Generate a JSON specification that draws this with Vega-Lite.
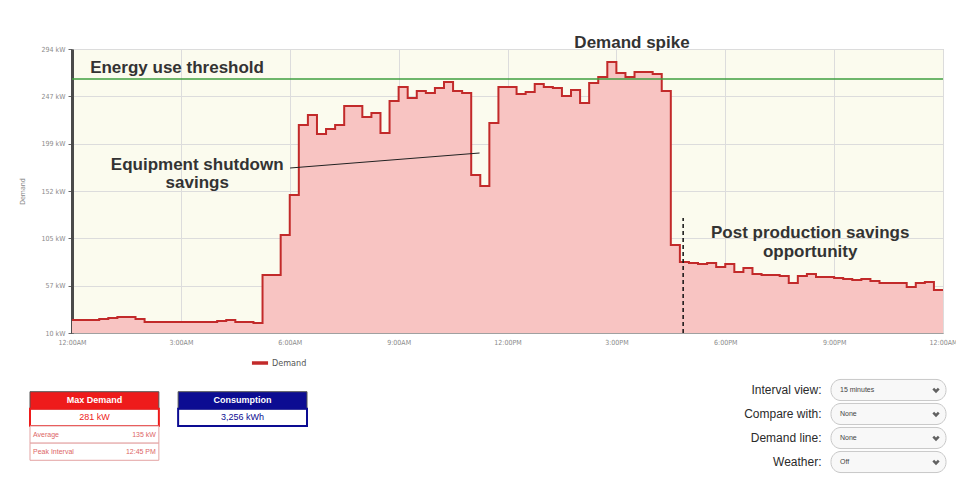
{
  "$schema": "https://vega.github.io/schema/vega-lite/v6.json",
  "background": "white",
  "padding": {"left": 17, "top": 33, "right": 0, "bottom": 0},
  "spacing": 32,
  "config": {
    "font": "Liberation Sans",
    "view": {"stroke": null},
    "axis": {"labelFont": "Liberation Sans Narrow, DejaVu Sans Condensed, Liberation Sans", "titleFont": "Liberation Sans Narrow, DejaVu Sans Condensed, Liberation Sans"},
    "legend": {"labelFont": "Liberation Sans Narrow, DejaVu Sans Condensed, Liberation Sans"}
  },
  "datasets": {
    "demand": [
      {"h": 0, "kw": 23}, {"h": 0.25, "kw": 23}, {"h": 0.5, "kw": 23}, {"h": 0.75, "kw": 24},
      {"h": 1, "kw": 25}, {"h": 1.25, "kw": 26}, {"h": 1.5, "kw": 26}, {"h": 1.75, "kw": 24},
      {"h": 2, "kw": 21}, {"h": 2.25, "kw": 21}, {"h": 2.5, "kw": 21}, {"h": 2.75, "kw": 21},
      {"h": 3, "kw": 21}, {"h": 3.25, "kw": 21}, {"h": 3.5, "kw": 21}, {"h": 3.75, "kw": 21},
      {"h": 4, "kw": 22}, {"h": 4.25, "kw": 23}, {"h": 4.5, "kw": 21}, {"h": 4.75, "kw": 21},
      {"h": 5, "kw": 20}, {"h": 5.25, "kw": 68}, {"h": 5.5, "kw": 68}, {"h": 5.75, "kw": 108},
      {"h": 6, "kw": 148}, {"h": 6.25, "kw": 218}, {"h": 6.5, "kw": 228}, {"h": 6.75, "kw": 209},
      {"h": 7, "kw": 214}, {"h": 7.25, "kw": 218}, {"h": 7.5, "kw": 237}, {"h": 7.75, "kw": 237},
      {"h": 8, "kw": 226}, {"h": 8.25, "kw": 230}, {"h": 8.5, "kw": 210}, {"h": 8.75, "kw": 242},
      {"h": 9, "kw": 256}, {"h": 9.25, "kw": 245}, {"h": 9.5, "kw": 252}, {"h": 9.75, "kw": 250},
      {"h": 10, "kw": 255}, {"h": 10.25, "kw": 261}, {"h": 10.5, "kw": 252}, {"h": 10.75, "kw": 250},
      {"h": 11, "kw": 168}, {"h": 11.25, "kw": 157}, {"h": 11.5, "kw": 220}, {"h": 11.75, "kw": 256},
      {"h": 12, "kw": 256}, {"h": 12.25, "kw": 249}, {"h": 12.5, "kw": 251}, {"h": 12.75, "kw": 259},
      {"h": 13, "kw": 256}, {"h": 13.25, "kw": 255}, {"h": 13.5, "kw": 247}, {"h": 13.75, "kw": 253},
      {"h": 14, "kw": 240}, {"h": 14.25, "kw": 260}, {"h": 14.5, "kw": 266}, {"h": 14.75, "kw": 281},
      {"h": 15, "kw": 270}, {"h": 15.25, "kw": 266}, {"h": 15.5, "kw": 271}, {"h": 15.75, "kw": 271},
      {"h": 16, "kw": 269}, {"h": 16.25, "kw": 252}, {"h": 16.5, "kw": 98}, {"h": 16.75, "kw": 81},
      {"h": 17, "kw": 80}, {"h": 17.25, "kw": 79}, {"h": 17.5, "kw": 80}, {"h": 17.75, "kw": 76},
      {"h": 18, "kw": 79}, {"h": 18.25, "kw": 71}, {"h": 18.5, "kw": 75}, {"h": 18.75, "kw": 69},
      {"h": 19, "kw": 68}, {"h": 19.25, "kw": 68}, {"h": 19.5, "kw": 67}, {"h": 19.75, "kw": 60},
      {"h": 20, "kw": 67}, {"h": 20.25, "kw": 69}, {"h": 20.5, "kw": 66}, {"h": 20.75, "kw": 66},
      {"h": 21, "kw": 65}, {"h": 21.25, "kw": 64}, {"h": 21.5, "kw": 63}, {"h": 21.75, "kw": 64},
      {"h": 22, "kw": 62}, {"h": 22.25, "kw": 60}, {"h": 22.5, "kw": 60}, {"h": 22.75, "kw": 60},
      {"h": 23, "kw": 56}, {"h": 23.25, "kw": 60}, {"h": 23.5, "kw": 61}, {"h": 23.75, "kw": 53},
      {"h": 24, "kw": 53}
    ],
    "cards": [
      {"card": "Max Demand", "part": "title", "text": "Max Demand"},
      {"card": "Max Demand", "part": "value", "text": "281 kW"},
      {"card": "Max Demand", "part": "Average", "text": "135 kW"},
      {"card": "Max Demand", "part": "Peak Interval", "text": "12:45 PM"},
      {"card": "Consumption", "part": "title", "text": "Consumption"},
      {"card": "Consumption", "part": "value", "text": "3,256 kWh"}
    ],
    "controls": [
      {"control": "Interval view:", "setting": "15 minutes"},
      {"control": "Compare with:", "setting": "None"},
      {"control": "Demand line:", "setting": "None"},
      {"control": "Weather:", "setting": "Off"}
    ]
  },
  "vconcat": [
    {
      "width": 871,
      "height": 284,
      "view": {"fill": "#fbfbee", "stroke": "#bdbdbd"},
      "layer": [
        {
          "data": {"name": "demand"},
          "mark": {"type": "area", "interpolate": "step-after", "color": "#f8c4c2", "opacity": 1},
          "encoding": {
            "x": {"field": "h", "type": "quantitative",
              "scale": {"domain": [0, 24], "nice": false, "zero": false},
              "axis": {"values": [0, 3, 6, 9, 12, 15, 18, 21, 24],
                "labelExpr": "(datum.value % 12 == 0 ? 12 : datum.value % 12) + ':00' + (datum.value % 24 < 12 ? 'AM' : 'PM')",
                "grid": true, "gridColor": "#dcdcdc", "domainColor": "#a0a0a0", "ticks": false,
                "labelFontSize": 7, "labelColor": "#8a8a8a", "labelPadding": 5, "labelFlush": false, "labelOverlap": false, "title": null}},
            "y": {"field": "kw", "type": "quantitative",
              "scale": {"domain": [10, 294], "nice": false, "zero": false},
              "axis": {"values": [10, 57.333, 104.667, 152, 199.333, 246.667, 294],
                "labelExpr": "format(datum.value, '.0f') + ' kW'",
                "grid": true, "gridColor": "#dcdcdc", "domainColor": "#4a4a4a", "domainWidth": 3,
                "ticks": true, "tickSize": 4, "tickColor": "#666", "labelFontSize": 7, "labelColor": "#8a8a8a", "labelPadding": 3,
                "title": "Demand", "titleFontSize": 7, "titleFontWeight": "normal", "titleColor": "#8a8a8a", "titlePadding": 16}},
            "y2": {"datum": 10}
          }
        },
        {
          "data": {"name": "demand"},
          "mark": {"type": "line", "interpolate": "step-after", "strokeWidth": 2},
          "encoding": {
            "x": {"field": "h", "type": "quantitative"},
            "y": {"field": "kw", "type": "quantitative"},
            "stroke": {"datum": "Demand", "type": "nominal",
              "scale": {"range": ["#c22a2a"]},
              "legend": {"orient": "none", "legendX": 178, "legendY": 304, "title": null, "direction": "horizontal",
                "symbolType": "stroke", "symbolStrokeWidth": 3.5, "symbolSize": 260, "labelFontSize": 9, "labelColor": "#555", "labelOffset": 2}}
          }
        },
        {
          "data": {"values": [{}]},
          "mark": {"type": "rule", "color": "#3f9f3f", "strokeWidth": 1.5},
          "encoding": {"y": {"datum": 264}}
        },
        {
          "data": {"values": [{}]},
          "mark": {"type": "rule", "color": "#111", "strokeWidth": 1.5, "strokeDash": [4, 3]},
          "encoding": {"x": {"datum": 16.84}, "y": {"datum": 10}, "y2": {"datum": 125}}
        },
        {
          "data": {"values": [{}]},
          "mark": {"type": "rule", "color": "#222", "strokeWidth": 1},
          "encoding": {"x": {"datum": 6.01}, "y": {"datum": 175}, "x2": {"datum": 11.23}, "y2": {"datum": 190}}
        },
        {
          "data": {"values": [{}]},
          "mark": {"type": "text", "text": "Energy use threshold", "align": "left", "baseline": "middle", "fontSize": 17, "fontWeight": "bold", "color": "#333"},
          "encoding": {"x": {"datum": 0.5}, "y": {"datum": 275}}
        },
        {
          "data": {"values": [{}]},
          "mark": {"type": "text", "text": "Demand spike", "align": "center", "baseline": "middle", "fontSize": 17, "fontWeight": "bold", "color": "#333"},
          "encoding": {"x": {"datum": 15.43}, "y": {"datum": 300}}
        },
        {
          "data": {"values": [{}]},
          "mark": {"type": "text", "text": "Equipment shutdown", "align": "center", "baseline": "middle", "fontSize": 17, "fontWeight": "bold", "color": "#333"},
          "encoding": {"x": {"datum": 3.45}, "y": {"datum": 178}}
        },
        {
          "data": {"values": [{}]},
          "mark": {"type": "text", "text": "savings", "align": "center", "baseline": "middle", "fontSize": 17, "fontWeight": "bold", "color": "#333"},
          "encoding": {"x": {"datum": 3.45}, "y": {"datum": 160}}
        },
        {
          "data": {"values": [{}]},
          "mark": {"type": "text", "text": "Post production savings", "align": "center", "baseline": "middle", "fontSize": 17, "fontWeight": "bold", "color": "#333"},
          "encoding": {"x": {"datum": 20.34}, "y": {"datum": 110}}
        },
        {
          "data": {"values": [{}]},
          "mark": {"type": "text", "text": "opportunity", "align": "center", "baseline": "middle", "fontSize": 17, "fontWeight": "bold", "color": "#333"},
          "encoding": {"x": {"datum": 20.34}, "y": {"datum": 91}}
        }
      ]
    },
    {
      "spacing": 435,
      "hconcat": [
        {
          "width": 235,
          "height": 96,
          "data": {"name": "cards"},
          "encoding": {
            "x": {"field": "card", "type": "nominal", "sort": ["Max Demand", "Consumption"],
              "scale": {"range": [-42, 235], "paddingInner": 0.13, "paddingOuter": 0}, "axis": null},
            "y": {"field": "part", "type": "nominal", "sort": ["title", "value", "Average", "Peak Interval"],
              "scale": {"paddingInner": 0, "paddingOuter": 0.8}, "axis": null}
          },
          "layer": [
            {
              "transform": [{"filter": "datum.part == 'title'"}],
              "mark": {"type": "rect", "stroke": "#555", "strokeWidth": 1},
              "encoding": {"color": {"field": "card", "type": "nominal",
                "scale": {"domain": ["Max Demand", "Consumption"], "range": ["#ee1b1b", "#0c0c92"]}, "legend": null}}
            },
            {
              "transform": [{"filter": "datum.part == 'value'"}],
              "mark": {"type": "rect", "filled": false, "strokeWidth": 2},
              "encoding": {"color": {"field": "card", "type": "nominal", "legend": null}}
            },
            {
              "transform": [{"filter": "datum.part == 'Average' || datum.part == 'Peak Interval'"}],
              "mark": {"type": "rect", "fill": "white", "stroke": "#e3a3a3", "strokeWidth": 1}
            },
            {
              "transform": [{"filter": "datum.part == 'title'"}],
              "mark": {"type": "text", "color": "white", "fontWeight": "bold", "fontSize": 9},
              "encoding": {"text": {"field": "text"}}
            },
            {
              "transform": [{"filter": "datum.part == 'value'"}],
              "mark": {"type": "text", "fontSize": 9},
              "encoding": {"text": {"field": "text"}, "color": {"field": "card", "type": "nominal", "legend": null}}
            },
            {
              "transform": [{"filter": "datum.part == 'Average' || datum.part == 'Peak Interval'"}],
              "mark": {"type": "text", "fontSize": 7, "align": "left", "dx": 3, "color": "#d66"},
              "encoding": {"x": {"field": "card", "type": "nominal", "bandPosition": 0}, "text": {"field": "part"}}
            },
            {
              "transform": [{"filter": "datum.part == 'Average' || datum.part == 'Peak Interval'"}],
              "mark": {"type": "text", "fontSize": 7, "align": "right", "dx": -3, "color": "#d66"},
              "encoding": {"x": {"field": "card", "type": "nominal", "bandPosition": 1}, "text": {"field": "text"}}
            }
          ]
        },
        {
          "width": 115,
          "height": 96,
          "data": {"name": "controls"},
          "encoding": {
            "y": {"field": "control", "type": "nominal",
              "sort": ["Interval view:", "Compare with:", "Demand line:", "Weather:"],
              "scale": {"paddingInner": 0.12, "paddingOuter": 0.06},
              "axis": {"title": null, "domain": false, "ticks": false, "labelFontSize": 12, "labelColor": "#2a2a2a", "labelPadding": 10, "labelFont": "Liberation Sans"}}
          },
          "layer": [
            {
              "mark": {"type": "rect", "cornerRadius": 10, "fill": "#f8f8f8", "stroke": "#c8c8c8", "strokeWidth": 1},
              "encoding": {"x": {"datum": 0, "type": "quantitative", "scale": {"domain": [0, 1]}, "axis": null}, "x2": {"datum": 1}}
            },
            {
              "mark": {"type": "text", "align": "left", "dx": 9, "fontSize": 7, "color": "#444"},
              "encoding": {"x": {"datum": 0, "type": "quantitative"}, "text": {"field": "setting"}}
            },
            {
              "mark": {"type": "point", "shape": "M-1,-0.5L0,0.5L1,-0.5", "filled": false, "strokeWidth": 2.5, "size": 30, "color": "#222", "xOffset": -10},
              "encoding": {"x": {"datum": 1, "type": "quantitative"}}
            }
          ]
        }
      ]
    }
  ]
}
